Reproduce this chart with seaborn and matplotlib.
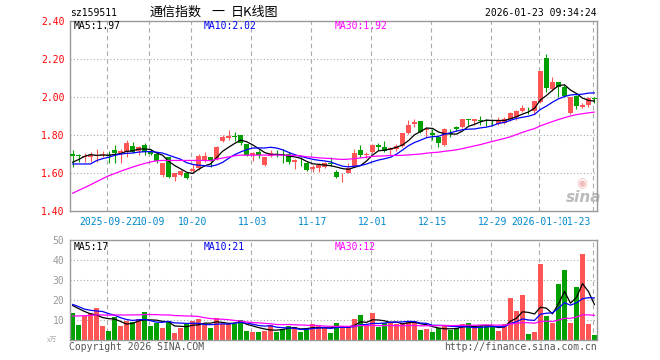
import numpy as np
import pandas as pd
import matplotlib
matplotlib.use("Agg")
import matplotlib.pyplot as plt
import matplotlib.transforms as mtransforms
import seaborn as sns

# ---------------- data ----------------
holidays = ['2025-10-01', '2025-10-02', '2025-10-03', '2025-10-06', '2025-10-07',
            '2025-10-08', '2026-01-01', '2026-01-02']
dates = [d.strftime('%Y-%m-%d') for d in pd.bdate_range('2025-09-12', '2026-01-23')
         if d.strftime('%Y-%m-%d') not in holidays]

open_ = [1.700, 1.695, 1.684, 1.688, 1.693, 1.695, 1.693, 1.723, 1.705, 1.714,
         1.744, 1.718, 1.749, 1.714, 1.702, 1.591, 1.688, 1.579, 1.591, 1.600,
         1.612, 1.626, 1.670, 1.684, 1.677, 1.772, 1.786, 1.795, 1.800, 1.754,
         1.697, 1.714, 1.644, 1.693, 1.703, 1.702, 1.702, 1.658, 1.672, 1.656,
         1.621, 1.626, 1.635, 1.656, 1.609, 1.589, 1.604, 1.639, 1.723, 1.698,
         1.711, 1.751, 1.740, 1.723, 1.726, 1.744, 1.814, 1.860, 1.875, 1.828,
         1.814, 1.789, 1.749, 1.811, 1.846, 1.842, 1.884, 1.875, 1.879, 1.881,
         1.879, 1.860, 1.867, 1.884, 1.898, 1.930, 1.940, 1.930, 1.977, 2.205,
         2.042, 2.081, 2.056, 1.916, 2.009, 1.951, 1.960, 1.995]
high = [1.723, 1.700, 1.705, 1.714, 1.726, 1.719, 1.718, 1.747, 1.730, 1.775,
        1.765, 1.744, 1.761, 1.730, 1.705, 1.656, 1.688, 1.604, 1.618, 1.604,
        1.649, 1.702, 1.712, 1.684, 1.744, 1.802, 1.828, 1.816, 1.800, 1.754,
        1.714, 1.723, 1.688, 1.723, 1.723, 1.726, 1.714, 1.674, 1.684, 1.661,
        1.644, 1.656, 1.661, 1.684, 1.618, 1.604, 1.656, 1.726, 1.747, 1.714,
        1.754, 1.761, 1.772, 1.740, 1.754, 1.814, 1.881, 1.884, 1.875, 1.842,
        1.832, 1.793, 1.837, 1.832, 1.849, 1.888, 1.888, 1.888, 1.902, 1.884,
        1.884, 1.895, 1.895, 1.925, 1.933, 1.958, 1.951, 1.981, 2.139, 2.228,
        2.105, 2.081, 2.065, 2.004, 2.012, 1.972, 2.000, 2.000]
low = [1.635, 1.661, 1.661, 1.661, 1.661, 1.688, 1.656, 1.656, 1.656, 1.688,
       1.709, 1.697, 1.697, 1.697, 1.656, 1.582, 1.574, 1.561, 1.586, 1.572,
       1.604, 1.618, 1.661, 1.635, 1.670, 1.767, 1.775, 1.770, 1.749, 1.691,
       1.667, 1.679, 1.639, 1.688, 1.684, 1.656, 1.649, 1.621, 1.639, 1.612,
       1.609, 1.609, 1.626, 1.639, 1.574, 1.556, 1.600, 1.635, 1.688, 1.679,
       1.705, 1.723, 1.714, 1.697, 1.719, 1.740, 1.807, 1.842, 1.814, 1.793,
       1.775, 1.737, 1.744, 1.793, 1.825, 1.837, 1.854, 1.854, 1.854, 1.849,
       1.849, 1.853, 1.860, 1.877, 1.881, 1.925, 1.912, 1.912, 1.972, 2.030,
       2.035, 2.000, 2.000, 1.912, 1.939, 1.942, 1.951, 1.968]
close = [1.693, 1.692, 1.691, 1.697, 1.698, 1.702, 1.690, 1.709, 1.718, 1.758,
         1.714, 1.737, 1.714, 1.702, 1.667, 1.656, 1.582, 1.600, 1.614, 1.577,
         1.621, 1.691, 1.691, 1.667, 1.740, 1.789, 1.796, 1.791, 1.758, 1.697,
         1.709, 1.697, 1.688, 1.705, 1.700, 1.698, 1.661, 1.670, 1.668, 1.618,
         1.635, 1.644, 1.653, 1.651, 1.582, 1.593, 1.626, 1.705, 1.697, 1.702,
         1.749, 1.740, 1.719, 1.732, 1.744, 1.811, 1.854, 1.872, 1.819, 1.835,
         1.802, 1.758, 1.832, 1.807, 1.832, 1.884, 1.881, 1.884, 1.875, 1.875,
         1.875, 1.881, 1.884, 1.919, 1.930, 1.944, 1.937, 1.981, 2.139, 2.047,
         2.081, 2.056, 2.007, 2.000, 1.956, 1.960, 1.995, 1.991]
volume = [13.7, 7.5, 12.2, 13.3, 16.0, 7.2, 4.7, 11.3, 7.2, 9.3,
          9.2, 10.5, 14.2, 7.0, 8.7, 6.2, 9.7, 3.5, 6.2, 7.8,
          9.7, 10.7, 7.7, 6.2, 11.2, 8.2, 8.2, 8.2, 10.2, 4.7,
          4.0, 4.0, 4.7, 7.7, 4.2, 5.7, 7.0, 6.5, 4.2, 5.0,
          8.0, 7.0, 6.5, 3.7, 8.5, 7.0, 7.0, 10.5, 12.5, 7.0,
          13.5, 6.5, 8.5, 8.5, 8.0, 8.7, 9.5, 9.5, 5.0, 5.5,
          4.0, 6.0, 7.5, 5.0, 6.2, 8.0, 8.5, 6.0, 7.0, 7.0,
          6.5, 4.5, 8.0, 21.0, 14.5, 22.5, 3.0, 4.0, 38.0, 12.0,
          8.5, 28.0, 35.0, 8.5, 26.5, 43.0, 8.0, 2.5]
# sessions before the visible window (estimated from the MA curves' start)
hist_close = [1.242, 1.241, 1.247, 1.218, 1.222, 1.240, 1.349, 1.358, 1.428, 1.384,
              1.437, 1.444, 1.462, 1.487, 1.596, 1.582, 1.600, 1.614, 1.577, 1.621,
              1.692, 1.691, 1.697, 1.520, 1.600, 1.622, 1.606, 1.650, 1.720]
hist_volume = [7.5, 9.0, 8.0, 7.0, 9.5, 8.5, 7.0, 8.5, 9.0, 8.0,
               9.5, 8.0, 8.8, 9.5, 11.0, 10.0, 12.0, 9.5, 11.5, 10.4,
               18.5, 25.0, 19.0, 19.5, 10.0, 15.0, 19.5, 19.5, 18.5]

tick_dates = ['2025-09-22', '2025-10-09', '2025-10-20', '2025-11-03', '2025-11-17',
              '2025-12-01', '2025-12-15', '2025-12-29', '2026-01-12', '2026-01-23']
tick_labels = ['2025-09-22', '10-09', '10-20', '11-03', '11-17',
               '12-01', '12-15', '12-29', '2026-01-12', '01-23']
price_ticks = [1.40, 1.60, 1.80, 2.00, 2.20, 2.40]
vol_ticks = [10, 20, 30, 40, 50]

ma_labels = ['MA5:1.97', 'MA10:2.02', 'MA30:1.92']
vma_labels = ['MA5:17', 'MA10:21', 'MA30:12']
title_parts = ['通信指数', '一', '日K线图']

# ---------------- style ----------------
RED = '#ff5555'
GREEN = '#00a000'
MA_COLORS = ['#000000', '#0000ff', '#ff00ff']
LABEL_COLORS = ['#000000', '#0000ee', '#ff00ff']
GRID = '#aaaaaa'
sns.set_style('white')
plt.rcParams['font.family'] = ['DejaVu Sans Mono', 'Noto Sans CJK SC']

n = len(close)
xs = np.arange(n)
df = pd.DataFrame({'idx': xs, 'date': dates, 'open': open_, 'high': high,
                   'low': low, 'close': close, 'volume': volume})
df['dir'] = np.where(df['close'] >= df['open'], 'up', 'down')
colors = np.where(df['dir'] == 'up', RED, GREEN)

cl_all = pd.Series(hist_close + close)
vo_all = pd.Series(hist_volume + volume)
windows = [5, 10, 30]
for w in windows:
    df[f'ma{w}'] = cl_all.rolling(w).mean().iloc[-n:].to_numpy()
    df[f'vma{w}'] = vo_all.rolling(w).mean().iloc[-n:].to_numpy()

tick_pos = [dates.index(d) for d in tick_dates]

W, H = 660.0, 360.0
def rect(l, t, r, b):
    return [l / W, 1 - b / H, (r - l) / W, (b - t) / H]

fig = plt.figure(figsize=(6.6, 3.6), dpi=100)
axp = fig.add_axes(rect(70, 21.3, 597, 211.3))
axv = fig.add_axes(rect(70, 240, 597, 340))
XLIM = (-0.42, n - 0.58)

# ---------------- price panel ----------------
for y in price_ticks[1:-1]:
    axp.axhline(y, color=GRID, lw=0.8, ls=(0, (1, 2)), zorder=0.5)
for p in tick_pos:
    axp.axvline(p - 0.33, color=GRID, lw=0.8, ls=(0, (4, 3)), zorder=0.5)

axp.vlines(df['idx'], df['low'], df['high'], colors=colors, lw=0.8, zorder=3)
body_bottom = np.minimum(df['open'], df['close'])
body_h = np.maximum((df['close'] - df['open']).abs(), 0.004)
axp.bar(df['idx'], body_h, bottom=body_bottom, width=0.75, color=colors,
        linewidth=0, zorder=4)
for w, c in zip(windows, MA_COLORS):
    sns.lineplot(x=df['idx'], y=df[f'ma{w}'], color=c, lw=0.9, ax=axp, zorder=5)

axp.set_xlim(*XLIM)
axp.set_ylim(1.40, 2.40)
axp.set_xticks([])
axp.set_yticks(price_ticks)
axp.set_yticklabels([f'{v:.2f}' for v in price_ticks])
axp.tick_params(axis='y', length=0, pad=4, labelsize=7, labelcolor='#ff0000')
axp.set_xlabel('')
axp.set_ylabel('')

trans = mtransforms.blended_transform_factory(axp.transData, axp.transAxes)
for i, (p, lab) in enumerate(zip(tick_pos, tick_labels)):
    if i == len(tick_pos) - 1:
        axp.text(p - 0.6, -0.054, lab, ha='right', va='center', color='#0088cc',
                 fontsize=7, transform=trans,
                 bbox=dict(facecolor='white', edgecolor='none', pad=0.2))
    else:
        axp.text(p, -0.054, lab, ha='center', va='center', color='#0088cc',
                 fontsize=7, transform=trans)

for lab, c, xf in zip(ma_labels, LABEL_COLORS, [0.0076, 0.254, 0.502]):
    axp.text(xf, 0.975, lab, ha='left', va='center', color=c, fontsize=7,
             transform=axp.transAxes)

# sina watermark
axp.text(0.972, 0.145, '\u25c9', ha='center', va='center', color='#f2bcbc',
         fontsize=9, family='DejaVu Sans', transform=axp.transAxes, zorder=1)
axp.text(0.975, 0.075, 'sina', ha='center', va='center', color='#bbbbbb',
         fontsize=11, fontweight='bold', style='italic', family='DejaVu Sans',
         transform=axp.transAxes, zorder=1)

# ---------------- volume panel ----------------
for y in vol_ticks[:-1]:
    axv.axhline(y, color=GRID, lw=0.8, ls=(0, (1, 2)), zorder=0.5)
for p in tick_pos:
    axv.axvline(p - 0.33, color=GRID, lw=0.8, ls=(0, (4, 3)), zorder=0.5)

sns.barplot(data=df, x='idx', y='volume', hue='dir',
            palette={'up': RED, 'down': GREEN}, native_scale=True, dodge=False,
            width=0.82, saturation=1, linewidth=0, errorbar=None, legend=False,
            ax=axv, zorder=2)
for w, c in zip(windows, MA_COLORS):
    sns.lineplot(x=df['idx'], y=df[f'vma{w}'], color=c, lw=0.9, ax=axv, zorder=5)

axv.set_xlim(*XLIM)
axv.set_ylim(0, 50)
axv.set_xticks([])
axv.set_yticks(vol_ticks)
axv.set_yticklabels([str(v) for v in vol_ticks])
axv.tick_params(axis='y', length=0, pad=4, labelsize=7, labelcolor='#999999')
axv.set_xlabel('')
axv.set_ylabel('')
axv.text(-0.023, 0.0, 'x万', ha='right', va='center', color='#aaaaaa', fontsize=5,
         family=['Noto Sans CJK SC', 'DejaVu Sans'], transform=axv.transAxes)

for lab, c, xf in zip(vma_labels, LABEL_COLORS, [0.0076, 0.254, 0.502]):
    axv.text(xf, 0.933, lab, ha='left', va='center', color=c, fontsize=7,
             transform=axv.transAxes)

for ax in (axp, axv):
    for s in ax.spines.values():
        s.set_color('#999999')
        s.set_linewidth(1.0)
        s.set_visible(True)

# ---------------- header / footer ----------------
fig.text(70 / W, 1 - 13 / H, 'sz159511', ha='left', va='center', fontsize=7, color='black')
for part, xl in zip(title_parts, [150, 211, 231]):
    fig.text(xl / W, 1 - 12.5 / H, part, ha='left', va='center', fontsize=9.4,
             color='black', family=['Noto Sans CJK SC', 'DejaVu Sans'])
fig.text(597 / W, 1 - 13 / H, '2026-01-23 09:34:24', ha='right', va='center',
         fontsize=7, color='black')
fig.text(69 / W, 1 - 346.5 / H, 'Copyright 2026 SINA.COM', ha='left', va='center',
         fontsize=7, color='#555555')
fig.text(597 / W, 1 - 346.5 / H, 'http://finance.sina.com.cn', ha='right', va='center',
         fontsize=7, color='#555555')

fig.savefig('out.png', dpi=100, facecolor='white')
